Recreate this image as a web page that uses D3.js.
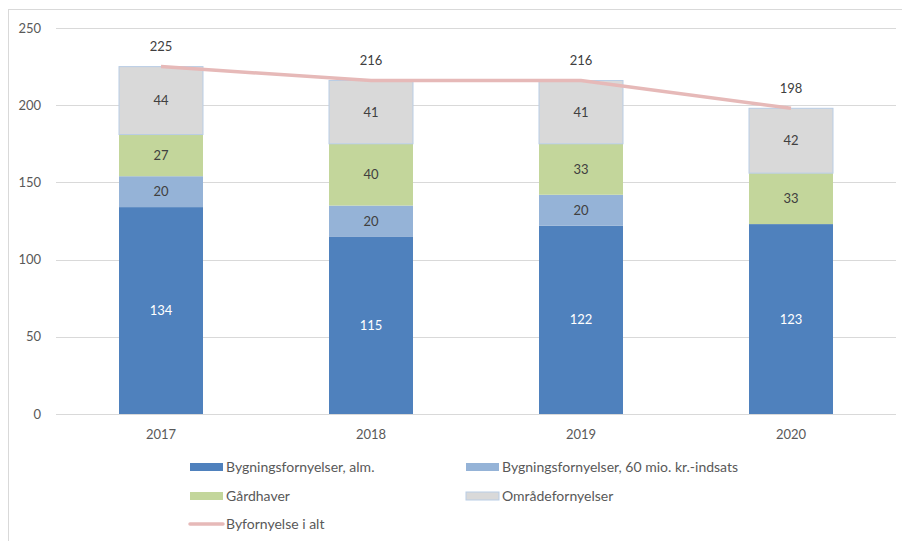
<!DOCTYPE html>
<html>
<head>
<meta charset="utf-8">
<script src="https://cdn.jsdelivr.net/npm/d3@7"></script>
<style>
  body { margin: 0; background: #fff; }
  svg text { font-family: Lato, "Open Sans", sans-serif; }
</style>
</head>
<body>
<div id="chart_div"></div>
<script>
// data
var years = ["2017", "2018", "2019", "2020"];
var almValues = [134, 115, 122, 123];
var indsatsValues = [20, 20, 20, 0];
var gaardValues = [27, 40, 33, 33];
var omraadeValues = [44, 41, 41, 42];
var totalValues = [225, 216, 216, 198];
var yTicks = [0, 50, 100, 150, 200, 250];

var seriesNames = ["Bygningsfornyelser, alm.", "Bygningsfornyelser, 60 mio. kr.-indsats", "Gårdhaver", "Områdefornyelser"];
var seriesColors = ["#4f81bd", "#95b3d7", "#c3d69b", "#d9d9d9"];
var seriesStrokes = ["none", "none", "none", "#b9cde5"];
var lineName = "Byfornyelse i alt";
var lineColor = "#e6b9b8";

var width = 902;
var height = 541;

var svg = d3.select("#chart_div").append("svg")
  .attr("width", width)
  .attr("height", height);

//outer frame
svg.append("rect")
  .attr("x", 8.5)
  .attr("y", 9.5)
  .attr("width", 910)
  .attr("height", 560)
  .attr("fill", "none")
  .attr("stroke", "#d9d9d9");

//scales
var x = d3.scaleBand()
  .domain(years)
  .range([56, 896])
  .paddingInner(0.6)
  .paddingOuter(0.3);

var y = d3.scaleLinear()
  .domain([0, 250])
  .range([414, 28]);

//grid lines
svg.append("g")
  .selectAll("line")
  .data(yTicks)
  .join("line")
  .attr("x1", 56)
  .attr("x2", 896)
  .attr("y1", d => Math.round(y(d)) + 0.5)
  .attr("y2", d => Math.round(y(d)) + 0.5)
  .attr("stroke", "#d9d9d9")
  .attr("stroke-width", 1);

//y axis labels
svg.append("g")
  .selectAll("text")
  .data(yTicks)
  .join("text")
  .attr("x", 41)
  .attr("y", d => y(d))
  .attr("dy", "0.35em")
  .attr("text-anchor", "end")
  .style("font-size", "13px")
  .style("fill", "#595959")
  .text(d => d);

//x axis labels
svg.append("g")
  .selectAll("text")
  .data(years)
  .join("text")
  .attr("x", d => x(d) + x.bandwidth() / 2)
  .attr("y", 434)
  .attr("dy", "0.35em")
  .attr("text-anchor", "middle")
  .style("font-size", "13px")
  .style("fill", "#595959")
  .text(d => d);

//stacked bars
var rows = years.map(function (yr, i) {
  return { year: yr, v0: almValues[i], v1: indsatsValues[i], v2: gaardValues[i], v3: omraadeValues[i] };
});
var stack = d3.stack().keys(["v0", "v1", "v2", "v3"]);
var stacked = stack(rows);

stacked.forEach(function (layer, s) {
  var g = svg.append("g");
  g.selectAll("rect")
    .data(layer.filter(d => d[1] - d[0] > 0))
    .join("rect")
    .attr("x", d => x(d.data.year))
    .attr("y", d => y(d[1]))
    .attr("width", x.bandwidth())
    .attr("height", d => y(d[0]) - y(d[1]))
    .attr("fill", seriesColors[s])
    .attr("stroke", seriesStrokes[s])
    .attr("stroke-width", 1);

  g.selectAll("text")
    .data(layer.filter(d => d[1] - d[0] > 0))
    .join("text")
    .attr("x", d => x(d.data.year) + x.bandwidth() / 2)
    .attr("y", d => (y(d[0]) + y(d[1])) / 2)
    .attr("dy", "0.35em")
    .attr("text-anchor", "middle")
    .style("font-size", "13px")
    .style("fill", s == 0 ? "#ffffff" : "#404040")
    .text(d => d[1] - d[0]);
});

//total line
var line = d3.line()
  .x((d, i) => x(years[i]) + x.bandwidth() / 2)
  .y(d => y(d));

svg.append("path")
  .datum(totalValues)
  .attr("d", line)
  .attr("fill", "none")
  .attr("stroke", lineColor)
  .attr("stroke-width", 3.5);

svg.append("g")
  .selectAll("text")
  .data(totalValues)
  .join("text")
  .attr("x", (d, i) => x(years[i]) + x.bandwidth() / 2)
  .attr("y", d => y(d) - 20)
  .attr("dy", "0.35em")
  .attr("text-anchor", "middle")
  .style("font-size", "13px")
  .style("fill", "#404040")
  .text(d => d);

//legend
var legendPos = [[190, 467], [466, 467], [190, 496], [466, 496]];
seriesNames.forEach(function (name, s) {
  var p = legendPos[s];
  svg.append("rect")
    .attr("x", p[0])
    .attr("y", p[1] - 4)
    .attr("width", 33)
    .attr("height", 8)
    .attr("fill", seriesColors[s])
    .attr("stroke", seriesStrokes[s]);
  svg.append("text")
    .attr("x", p[0] + 36)
    .attr("y", p[1])
    .attr("dy", "0.35em")
    .style("font-size", "14px")
    .style("fill", "#595959")
    .text(name);
});

svg.append("line")
  .attr("x1", 190)
  .attr("x2", 223)
  .attr("y1", 524)
  .attr("y2", 524)
  .attr("stroke", lineColor)
  .attr("stroke-width", 3.5)
  .attr("stroke-linecap", "round");
svg.append("text")
  .attr("x", 226)
  .attr("y", 524)
  .attr("dy", "0.35em")
  .style("font-size", "14px")
  .style("fill", "#595959")
  .text(lineName);
</script>
</body>
</html>
